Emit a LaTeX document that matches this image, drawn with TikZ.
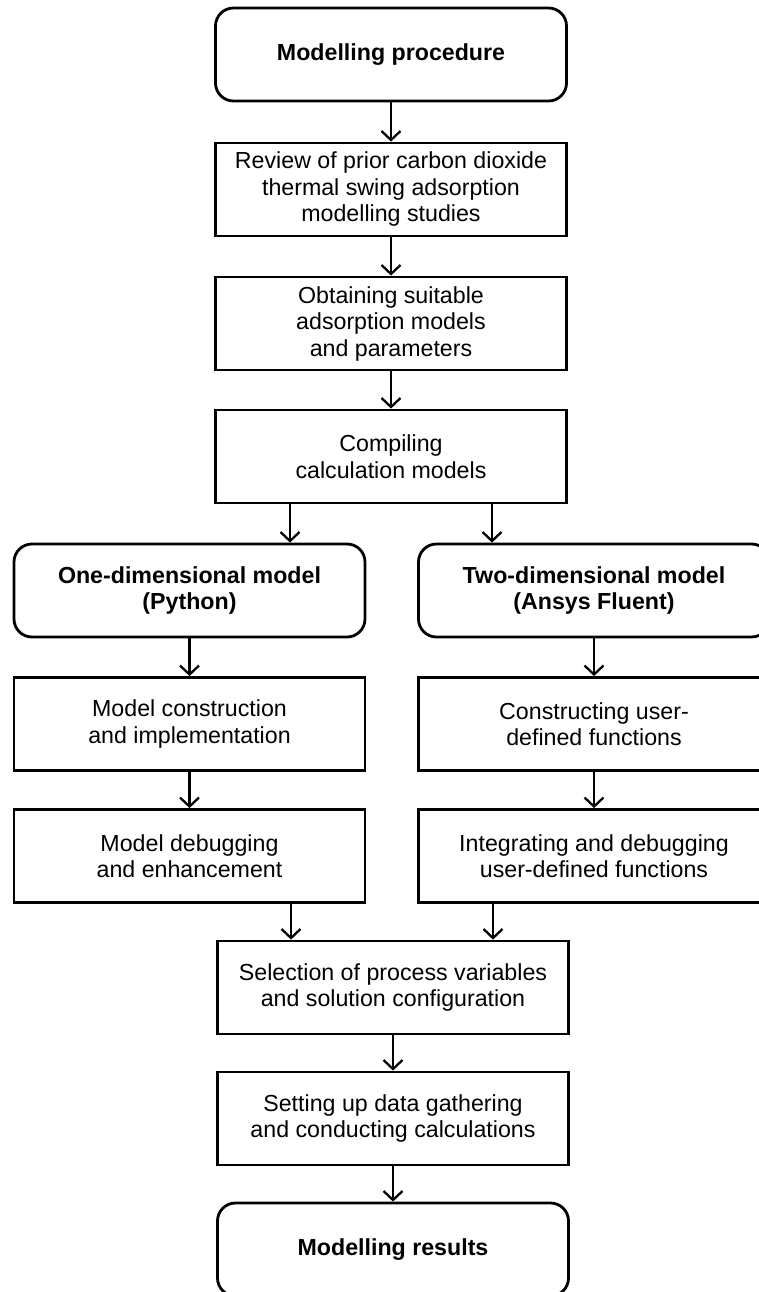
\documentclass[tikz,border=0pt]{standalone}
\usepackage{fontspec}
\setmainfont{Liberation Sans}
\usepackage{tikz}
\usetikzlibrary{arrows.meta,calc,positioning}

\begin{document}
\begin{tikzpicture}[
		x=1pt, y=-1pt,
		every node/.style={font=\fontsize{23.2}{26.5}\selectfont},
		stepbox/.style={rectangle, draw, line width=2.8pt, align=center,
			minimum width=351pt, minimum height=93pt, inner sep=0pt},
		termbox/.style={stepbox, rounded corners=18pt,
			font=\fontsize{23.2}{26.5}\selectfont\bfseries},
		flow/.style={-{Straight Barb[length=9pt,width=19pt]}, line width=2.3pt},
		]
	
		\useasboundingbox (0,0) rectangle (759,1292);
	
		% --- tronc commun ---
		\node[termbox] (proc) at (391, 54.5) {Modelling procedure};
		\node[stepbox] (review) at (391, 189.5) {Review of prior carbon dioxide\\thermal swing adsorption\\modelling studies};
		\node[stepbox] (obtain) at (391, 323.5) {Obtaining suitable\\adsorption models\\and parameters};
		\node[stepbox] (compile) at (391, 456.5) {Compiling\\calculation models};
	
		% --- branche gauche (1D) ---
		\node[termbox] (oned) at (189.5, 590.5) {One-dimensional model\\(Python)};
		\node[stepbox] (construct) at (189.5, 724) {Model construction\\and implementation};
		\node[stepbox] (debug) at (189.5, 856) {Model debugging\\and enhancement};
	
		% --- branche droite (2D) ---
		\node[termbox] (twod) at (594, 590.5) {Two-dimensional model\\(Ansys Fluent)};
		\node[stepbox] (udf) at (594, 724) {Constructing user-\\defined functions};
		\node[stepbox] (integrate) at (594, 856) {Integrating and debugging\\user-defined functions};
	
		% --- fin ---
		\node[stepbox] (select) at (393, 987.5) {Selection of process variables\\and solution configuration};
		\node[stepbox] (gather) at (393, 1118.5) {Setting up data gathering\\and conducting calculations};
		\node[termbox] (results) at (393, 1249.5) {Modelling results};
	
		% Flèches
		\draw[flow] (proc) -- (review);
		\draw[flow] (review) -- (obtain);
		\draw[flow] (obtain) -- (compile);
		\draw[flow] ([xshift=-101pt]compile.south) -- ([xshift=-101pt]compile.south |- oned.north);
		\draw[flow] ([xshift=101pt]compile.south) -- ([xshift=101pt]compile.south |- twod.north);
		\draw[flow] (oned) -- (construct);
		\draw[flow] (construct) -- (debug);
		\draw[flow] (twod) -- (udf);
		\draw[flow] (udf) -- (integrate);
		\draw[flow] ([xshift=-102pt]select.north |- debug.south) -- ([xshift=-102pt]select.north);
		\draw[flow] ([xshift=100pt]select.north |- integrate.south) -- ([xshift=100pt]select.north);
		\draw[flow] (select) -- (gather);
		\draw[flow] (gather) -- (results);
	
	\end{tikzpicture}
\end{document}
